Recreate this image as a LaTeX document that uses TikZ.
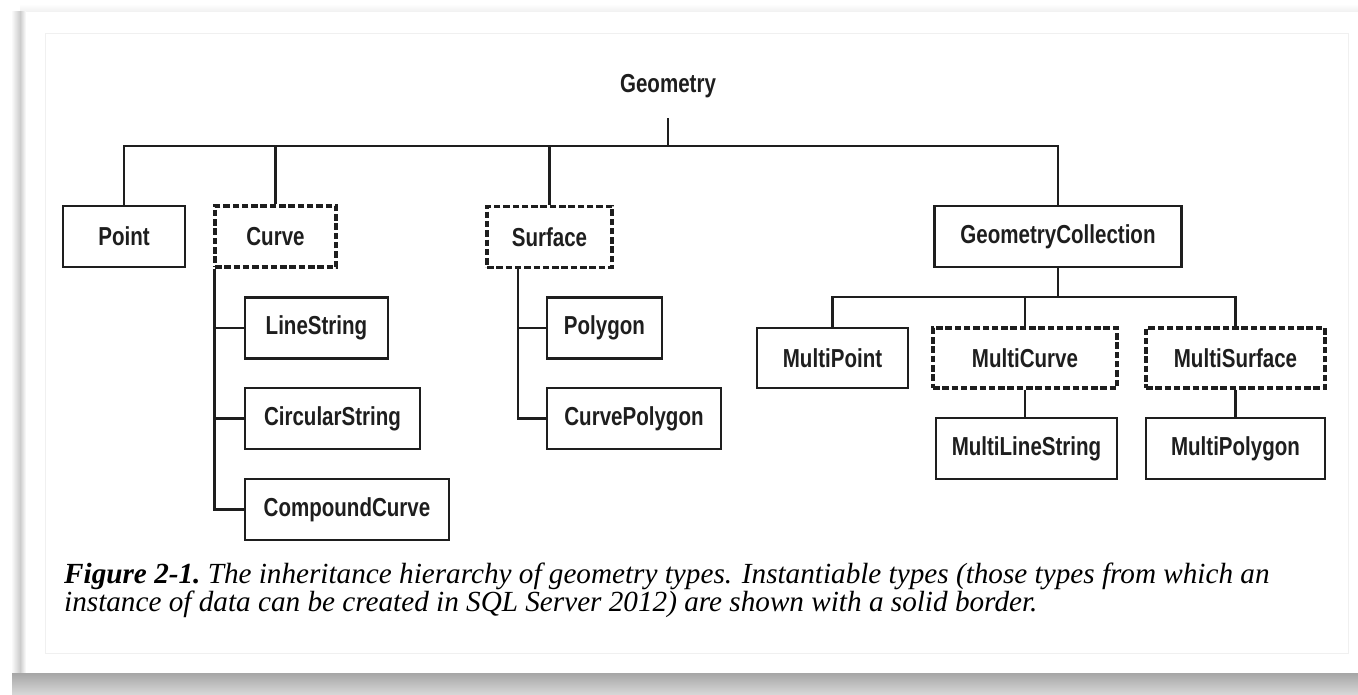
\documentclass[tikz,border=0pt]{standalone}
\usepackage{fontspec}
\newfontfamily\lblfont[FakeStretch=0.79]{Liberation Sans Bold}
\newfontfamily\capfont{Liberation Serif}
\definecolor{ink}{HTML}{1e1e1e}
\begin{document}
\begin{tikzpicture}[x=1pt,y=-1pt,
  lbl/.style={font=\lblfont\fontsize{26}{30}\selectfont, text=ink, inner sep=0pt},
  solidbox/.style={lbl, draw=ink, line width=2.3pt, minimum height=61pt},
  dashbox/.style={lbl, draw=ink, line width=3.2pt, dash pattern=on 6.5pt off 2.8pt, minimum height=61pt},
  conn/.style={draw=ink, line width=2.2pt},
  capstyle/.style={font=\capfont\fontsize{29.2}{30}\selectfont, text=black, inner sep=0pt, anchor=base west}]
\useasboundingbox (0,0) rectangle (1358,695);
% page and shadows
\fill[white] (0,0) rectangle (1358,695);
\fill[top color=white, bottom color=gray!12] (20,4) rectangle (1358,12);
\fill[left color=white, right color=gray!40] (11,12) rectangle (20,673);
\fill[left color=gray!40, right color=white] (20,12) rectangle (26,673);
\fill[top color=gray!70, bottom color=gray!30] (12,673) rectangle (1358,695);
\draw[gray!12, line width=1pt] (45,34) rectangle (1348,653);
% nodes
\node[lbl, minimum height=64pt] (geom) at (668,86) {Geometry};
\node[solidbox, minimum width=122pt] (point) at (124,236.5) {Point};
\node[dashbox, minimum width=121pt] (curve) at (275.5,236.5) {Curve};
\node[dashbox, minimum width=125pt] (surface) at (549.5,237) {Surface};
\node[solidbox, minimum width=247pt] (gc) at (1058,236.5) {GeometryCollection};
\node[solidbox, minimum width=143pt] (linestring) at (316.5,328) {LineString};
\node[solidbox, minimum width=175pt] (circular) at (332.5,418.5) {CircularString};
\node[solidbox, minimum width=204pt] (compound) at (347,509.5) {CompoundCurve};
\node[solidbox, minimum width=115pt] (polygon) at (604.5,328) {Polygon};
\node[solidbox, minimum width=174pt] (curvepolygon) at (634,418.5) {CurvePolygon};
\node[solidbox, minimum width=151pt, minimum height=60pt] (mpoint) at (832.5,358) {MultiPoint};
\node[dashbox, minimum width=184pt, minimum height=60pt] (mcurve) at (1025,358) {MultiCurve};
\node[dashbox, minimum width=179pt, minimum height=60pt] (msurface) at (1235.5,358) {MultiSurface};
\node[solidbox, minimum width=181pt] (mlinestring) at (1026.5,448.5) {MultiLineString};
\node[solidbox, minimum width=179pt] (mpolygon) at (1235.5,448.5) {MultiPolygon};
% connectors
\coordinate (bus) at (668,146);
\coordinate (gcbus) at (1058,297);
\coordinate (sstem) at ([xshift=-31.5pt]surface.south);
\draw[conn] (geom.south) -- (bus);
\draw[conn] (point.north) |- (bus) -| (gc.north);
\draw[conn] (curve.north) -- (curve.north |- bus);
\draw[conn] (surface.north) -- (surface.north |- bus);
\draw[conn] ([xshift=1pt]curve.south west) |- (compound.west);
\draw[conn] ([xshift=1pt]curve.south west |- linestring.west) -- (linestring.west);
\draw[conn] ([xshift=1pt]curve.south west |- circular.west) -- (circular.west);
\draw[conn] (sstem) |- (curvepolygon.west);
\draw[conn] (sstem |- polygon.west) -- (polygon.west);
\draw[conn] (gc.south) -- (gcbus);
\draw[conn] (mpoint.north) |- (gcbus) -| (msurface.north);
\draw[conn] (mcurve.north) -- (mcurve.north |- gcbus);
\draw[conn] (mcurve.south) -- (mcurve.south |- mlinestring.north);
\draw[conn] (msurface.south) -- (mpolygon.north);
% caption
\node[capstyle] (cap1) at (64,583) {\bfseries\itshape Figure 2-1.\mdseries\ The inheritance hierarchy of geometry types. Instantiable types (those types from which an};
\node[capstyle] (cap2) at (64,611) {\itshape instance of data can be created in SQL Server 2012) are shown with a solid border.};
\end{tikzpicture}
\end{document}
